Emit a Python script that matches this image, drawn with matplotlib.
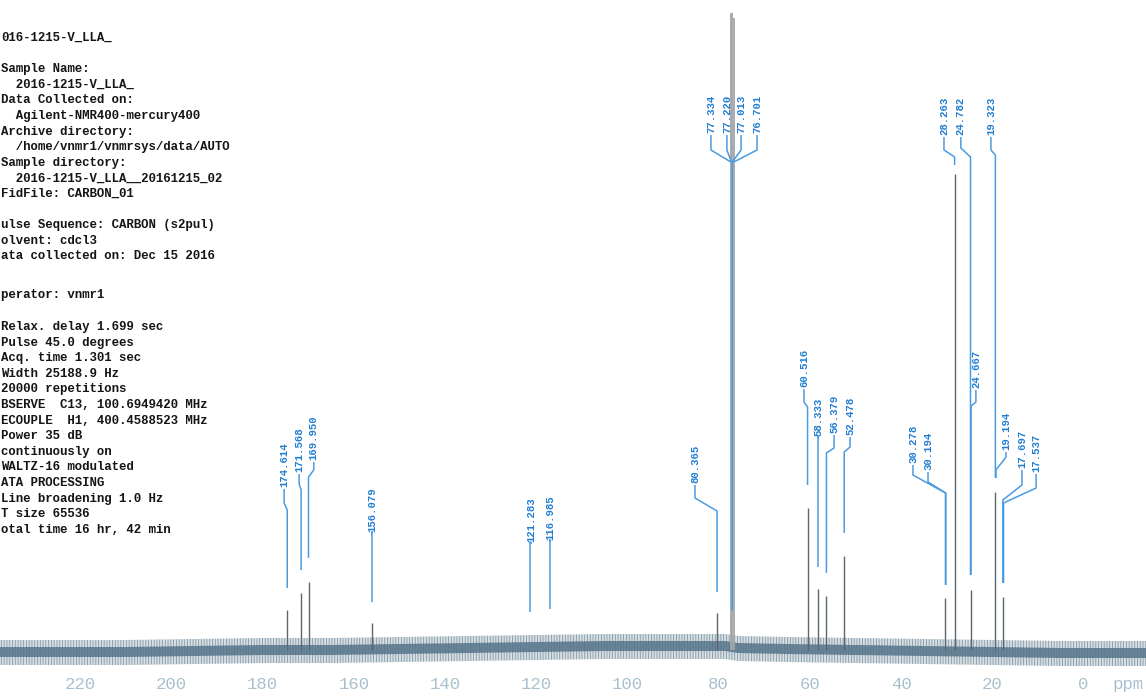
import matplotlib
matplotlib.use("Agg")
import matplotlib.pyplot as plt
from matplotlib.transforms import blended_transform_factory

MONO = "Liberation Mono"
LABEL_BLUE = "#1f7dd3"
LEADER_BLUE = "#4b9be0"
PEAK_GREY = "#5c666c"
TICK_GREY = "#a9c1cf"

plt.rcParams["hatch.linewidth"] = 0.6

# acquisition / processing parameters printed beside the spectrum,
# three blocks, each with the y (px from top) of its first line
param_blocks = [
    (38, ["016-1215-V_LLA_", "",
          "Sample Name:",
          "  2016-1215-V_LLA_",
          "Data Collected on:",
          "  Agilent-NMR400-mercury400",
          "Archive directory:",
          "  /home/vnmr1/vnmrsys/data/AUTO",
          "Sample directory:",
          "  2016-1215-V_LLA__20161215_02",
          "FidFile: CARBON_01", "",
          "ulse Sequence: CARBON (s2pul)",
          "olvent: cdcl3",
          "ata collected on: Dec 15 2016"]),
    (295, ["perator: vnmr1"]),
    (327, ["Relax. delay 1.699 sec",
           "Pulse 45.0 degrees",
           "Acq. time 1.301 sec",
           "Width 25188.9 Hz",
           "20000 repetitions",
           "BSERVE  C13, 100.6949420 MHz",
           "ECOUPLE  H1, 400.4588523 MHz",
           "Power 35 dB",
           "continuously on",
           "WALTZ-16 modulated",
           "ATA PROCESSING",
           "Line broadening 1.0 Hz",
           "T size 65536",
           "otal time 16 hr, 42 min"]),
]

# 13C signals (ppm) and their heights above the baseline
sig_ppm = [174.614, 171.568, 169.950, 156.079, 80.365, 60.516, 58.333,
           56.379, 52.478, 30.278, 28.263, 24.782, 19.323, 17.697]
sig_height = [40, 57, 68, 27, 37, 142, 61, 54, 94, 52, 476, 60, 158, 53]

# CDCl3 triplet
solvent_ppm = [77.334, 77.013, 76.701]
solvent_height = [637, 637, 632]

# picked peak labels
pick_ppm = [174.614, 171.568, 169.950, 156.079, 121.283, 116.985, 80.365,
            77.334, 77.220, 77.013, 76.701, 60.516, 58.333, 56.379, 52.478,
            30.278, 30.194, 28.263, 24.782, 24.667, 19.323, 19.194, 17.697,
            17.537]

# label layout: text x (ppm), text bottom, leader kink heights, leader end
lab_x = [175.3, 172.0, 168.8, 156.0, 121.2, 117.0, 85.2, 81.7, 78.2, 75.1,
         71.6, 61.3, 58.2, 54.7, 51.2, 37.4, 34.1, 30.6, 26.9, 23.6, 20.3,
         17.0, 13.5, 10.4]
lab_base = [163, 178, 190, 118, 108, 110, 167, 517, 517, 517, 517, 263,
            214, 217, 215, 187, 180, 515, 515, 262, 515, 200, 182, 178]
lab_k1 = [147, 166, 180, 118, 108, 110, 152, 500, 500, 500, 500, 248,
          214, 202, 203, 175, 168, 500, 502, 248, 500, 193, 165, 162]
lab_k2 = [140, 160, 173, 118, 108, 110, 139, 488, 488, 488, 488, 243,
          214, 197, 198, 157, 157, 493, 493, 244, 495, 180, 150, 147]
lab_end = [62, 80, 92, 48, 38, 41, 58, 488, 488, 40, 488, 165,
           83, 77, 117, 65, 65, 485, 75, 75, 172, 172, 67, 67]

# baseline noise envelope (dense core and spike extent)
noise_ppm = [237.6, 225, 210, 195, 180, 165, 150, 135, 120, 105, 90, 78.6,
             75.8, 65, 50, 35, 20, 5, -13.7]
core_hi = [3, 3, 3, 4, 5, 5, 6, 7, 8, 9, 9, 9, 7, 6, 5, 4, 3, 2, 2]
core_lo = [-7, -7, -7, -6, -5, -5, -4, -3, -2, -1, -1, -1, -3, -4, -5, -6,
           -7, -8, -8]
spike_hi = [10, 10, 10, 11, 12, 12, 13, 14, 15, 16, 16, 16, 14, 13, 12, 11,
            10, 9, 9]
spike_lo = [-15, -15, -15, -14, -13, -13, -12, -11, -10, -9, -9, -9, -11,
            -12, -13, -14, -15, -16, -16]

x_ticks = [220, 200, 180, 160, 140, 120, 100, 80, 60, 40, 20, 0]

fig = plt.figure(figsize=(11.46, 7.0), dpi=100)
ax = fig.add_axes([0, 24 / 700, 1, 676 / 700])
ax.set_xlim(237.6, -13.7)
ax.set_ylim(-26, 650)

# noise band: light spikes, hatched texture, denser core
ax.fill_between(noise_ppm, spike_lo, spike_hi, color="#a9bac5", lw=0,
                alpha=0.45)
ax.fill_between(noise_ppm, spike_lo, spike_hi, facecolor="none",
                edgecolor="#5d7a8d", hatch="||||||", lw=0, alpha=0.7)
ax.fill_between(noise_ppm, core_lo, core_hi, color="#56748a", lw=0,
                alpha=0.85)

ax.vlines(sig_ppm, 0, sig_height, color=PEAK_GREY, lw=1.0)
ax.vlines(solvent_ppm, 0, solvent_height, color="#a3a6a8", lw=1.3)

for i, ppm in enumerate(pick_ppm):
    xs = [lab_x[i], lab_x[i], ppm, ppm]
    ys = [lab_base[i] - 2, lab_k1[i], lab_k2[i], lab_end[i]]
    ax.plot(xs, ys, color=LEADER_BLUE, lw=1.1, solid_capstyle="butt")
    ax.text(lab_x[i], lab_base[i], f"{ppm:.3f}", rotation=90, ha="center",
            va="bottom", color=LABEL_BLUE, family=MONO, weight="bold",
            size=7.7)

ax.set_xticks(x_ticks)
ax.set_xticklabels([str(t) for t in x_ticks], family=MONO)
ax.tick_params(axis="x", length=0, labelsize=12.5, labelcolor=TICK_GREY,
               pad=1)
ax.set_yticks([])
for sp in ax.spines.values():
    sp.set_visible(False)

trans = blended_transform_factory(ax.transData, ax.transAxes)
ax.text(-9.8, -0.0015, "ppm", transform=trans, ha="center", va="top",
        family=MONO, size=12.5, color=TICK_GREY)

for y0, lines in param_blocks:
    for j, s in enumerate(lines):
        if s:
            fig.text(1 / 1146, 1 - (y0 + 15.6 * j) / 700, s, ha="left",
                     va="center", family=MONO, weight="bold", size=8.9,
                     color="#151515")

fig.savefig("out.png", dpi=100)
